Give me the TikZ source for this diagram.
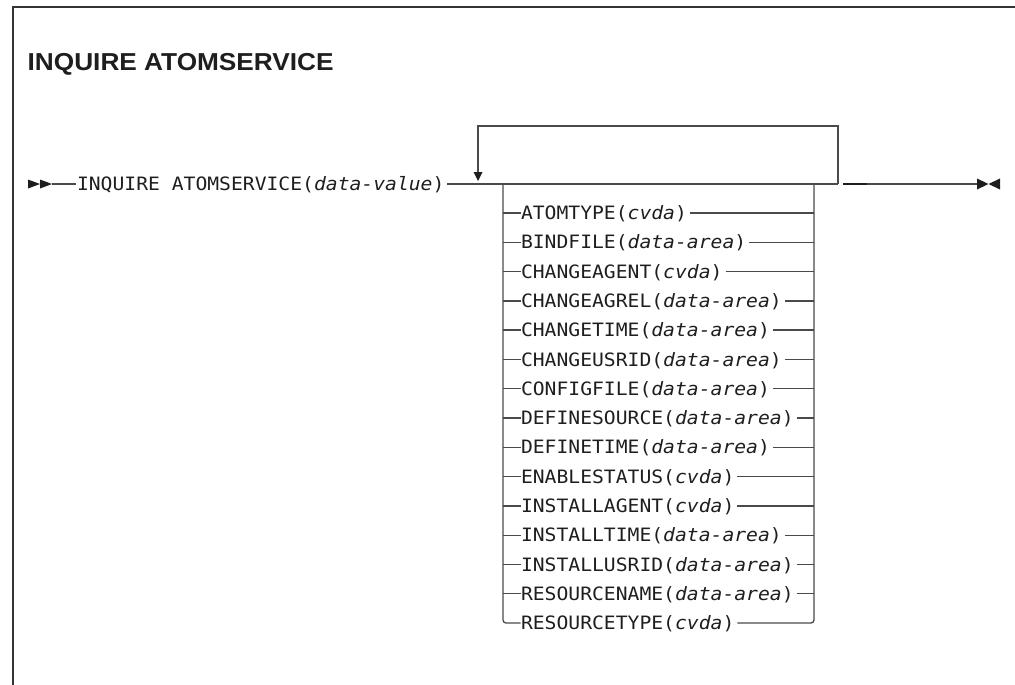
\documentclass[tikz,border=0pt]{standalone}
\usepackage{fontspec}
\newfontfamily\mono[FakeStretch=1.07]{DejaVu Sans Mono}
\newfontfamily\titlefont[FakeStretch=1.07]{Liberation Sans}
\usetikzlibrary{calc}
\definecolor{ln}{HTML}{4A4A4A}
\definecolor{tx}{HTML}{1E1E1E}
\tikzset{
  rail/.style={draw=ln, line width=1.3pt},
  frame/.style={draw=ln!70!black, line width=2pt},
  txt/.style={inner sep=0pt, outer sep=0pt, text=tx, font=\mono\fontsize{18.4}{20}\selectfont, anchor=base west},
  tip/.style={fill=tx, draw=none}
}
\begin{document}
\begin{tikzpicture}[x=1pt,y=-1pt]
\useasboundingbox (0,0) rectangle (1015,685);
% frame
\draw[frame] (12.5,685) -- (12.5,7) -- (1015,7);
% title
\node[inner sep=0pt, anchor=base west, text=tx, font=\titlefont\bfseries\fontsize{24.5}{28}\selectfont] (title) at (27.5,70.7) {INQUIRE ATOMSERVICE};
% main line
\coordinate (S) at (52,184);
\coordinate (J) at (838,184);
\coordinate (K) at (843,184);
\coordinate (E) at (977,184);
\coordinate (LT) at (478,126);
\coordinate (RT) at (838,126);
\coordinate (A) at (478,172);
\node[txt] (main) at (77,190.7) {INQUIRE ATOMSERVICE(\textit{data-value})};
\fill[tip] (28,179.5) -- (40,184) -- (28,188.5) -- cycle;
\fill[tip] (40,179.5) -- (52,184) -- (40,188.5) -- cycle;
\draw[rail] (S) -- ([xshift=-1pt]S -| main.west);
\draw[rail] ([xshift=3pt]main.east |- S) -- (J);
\draw[rail] (K) -- (E);
\draw[draw=tx, line width=2pt] (K) -- ++(24,0);
\fill[tip] (977,178.5) -- (988.5,184) -- (977,189.5) -- cycle;
\fill[tip] (1000,178.5) -- (988.5,184) -- (1000,189.5) -- cycle;
% repeat loop
\draw[rail] (J) -- (RT) -- (LT) -- (A);
\fill[tip] (473.5,172) -- (482.5,172) -- (478,181) -- cycle;
% choice box
\coordinate (BL) at (503,184);
\coordinate (BR) at (814,184);
\foreach \a/\b [count=\i] in {ATOMTYPE/cvda, BINDFILE/data-area, CHANGEAGENT/cvda,
  CHANGEAGREL/data-area, CHANGETIME/data-area, CHANGEUSRID/data-area,
  CONFIGFILE/data-area, DEFINESOURCE/data-area, DEFINETIME/data-area,
  ENABLESTATUS/cvda, INSTALLAGENT/cvda, INSTALLTIME/data-area,
  INSTALLUSRID/data-area, RESOURCENAME/data-area, RESOURCETYPE/cvda} {
  \pgfmathsetmacro{\yy}{213+29.286*(\i-1)}
  \coordinate (L\i) at (503,\yy);
  \coordinate (R\i) at (814,\yy);
  \node[txt] (r\i) at (521,\yy+6.7) {\a(\textit{\b})};
  \ifnum\i<15
    \draw[rail] (L\i) -- ([xshift=-0.5pt]L\i -| r\i.west);
    \draw[rail] ([xshift=3pt]r\i.east |- R\i) -- (R\i);
  \fi
}
\draw[rail, rounded corners=3pt] (BL) -- (L15) -- ([xshift=-0.5pt]L15 -| r15.west);
\draw[rail, rounded corners=3pt] ([xshift=3pt]r15.east |- R15) -- (R15) -- (BR);
\end{tikzpicture}
\end{document}
